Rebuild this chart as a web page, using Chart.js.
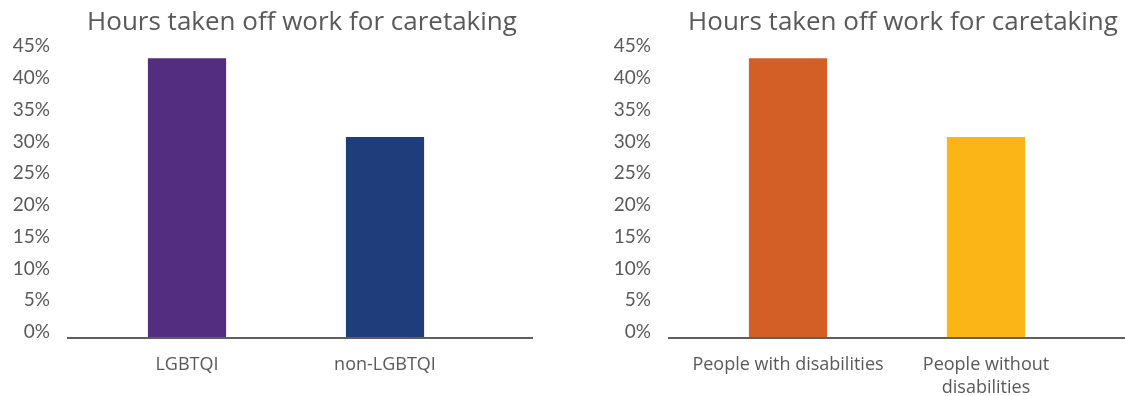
<!DOCTYPE html>
<html>
<head>
<meta charset="utf-8">
<script src="https://cdn.jsdelivr.net/npm/chart.js@4"></script>
<style>
  html, body { margin: 0; padding: 0; background: #fff; overflow: hidden; }
  #wrap { position: relative; width: 1125px; height: 396px; overflow: hidden; }
  canvas { position: absolute; top: 0; }
</style>
</head>
<body>
<div id="wrap">
  <canvas id="lgbtqChart" width="604" height="396" style="left:0"></canvas>
  <canvas id="disabilityChart" width="604" height="396" style="left:601px"></canvas>
</div>
<script>
const chartTitle = 'Hours taken off work for caretaking';
const yTicks = [0, 5, 10, 15, 20, 25, 30, 35, 40, 45];

const lgbtqLabels = ['LGBTQI', 'non-LGBTQI'];
const lgbtqValues = [43.9, 31.5];
const lgbtqColors = ['#522D80', '#1F3D7A'];

const disabilityLabels = ['People with disabilities', ['People without', 'disabilities']];
const disabilityValues = [43.9, 31.5];
const disabilityColors = ['#D35F27', '#FBB516'];

const textColor = '#595959';

// baseline runs a bit past the category area, like the original
const baselinePlugin = {
    id: 'baseline',
    afterDatasetsDraw(chart) {
        const { ctx, chartArea } = chart;
        ctx.save();
        ctx.strokeStyle = '#5f5f5f';
        ctx.lineWidth = 2;
        ctx.beginPath();
        ctx.moveTo(chartArea.left - 21, chartArea.bottom + 1);
        ctx.lineTo(chartArea.right + 49, chartArea.bottom + 1);
        ctx.stroke();
        ctx.restore();
    }
};

function makeChart(id, labels, values, colors) {
    const ctx = document.getElementById(id).getContext('2d');
    return new Chart(ctx, {
        type: 'bar',
        data: {
            labels: labels,
            datasets: [{
                data: values,
                backgroundColor: colors,
                categoryPercentage: 1,
                barPercentage: 0.395
            }]
        },
        options: {
            responsive: false,
            animation: false,
            layout: { padding: 0 },
            plugins: {
                legend: { display: false },
                tooltip: { enabled: false },
                title: {
                    display: true,
                    text: chartTitle,
                    color: textColor,
                    font: { family: 'Open Sans', size: 26, weight: 'normal' },
                    padding: { top: 7, bottom: 13 }
                }
            },
            scales: {
                x: {
                    grid: { display: false, drawTicks: false },
                    border: { display: false },
                    ticks: {
                        color: textColor,
                        font: { family: 'Open Sans', size: 18, lineHeight: 1.3 },
                        padding: 16,
                        maxRotation: 0
                    },
                    afterFit(scale) { scale.height = 59; }
                },
                y: {
                    min: 0,
                    max: 45,
                    grid: { display: false, drawTicks: false },
                    border: { display: false },
                    afterBuildTicks(scale) { scale.ticks = yTicks.map(v => ({ value: v })); },
                    ticks: {
                        color: textColor,
                        font: { family: 'Lato', size: 19 },
                        padding: 38,
                        labelOffset: -5,
                        callback: v => v + '%'
                    },
                    afterFit(scale) { scale.width = 88; }
                },
                // empty right axis, only reserves the blank space right of the bars
                spacer: {
                    type: 'linear',
                    position: 'right',
                    grid: { display: false, drawTicks: false },
                    border: { display: false },
                    ticks: { display: false },
                    afterFit(scale) { scale.width = 120; }
                }
            }
        },
        plugins: [baselinePlugin]
    });
}

makeChart('lgbtqChart', lgbtqLabels, lgbtqValues, lgbtqColors);
makeChart('disabilityChart', disabilityLabels, disabilityValues, disabilityColors);
</script>
</body>
</html>
